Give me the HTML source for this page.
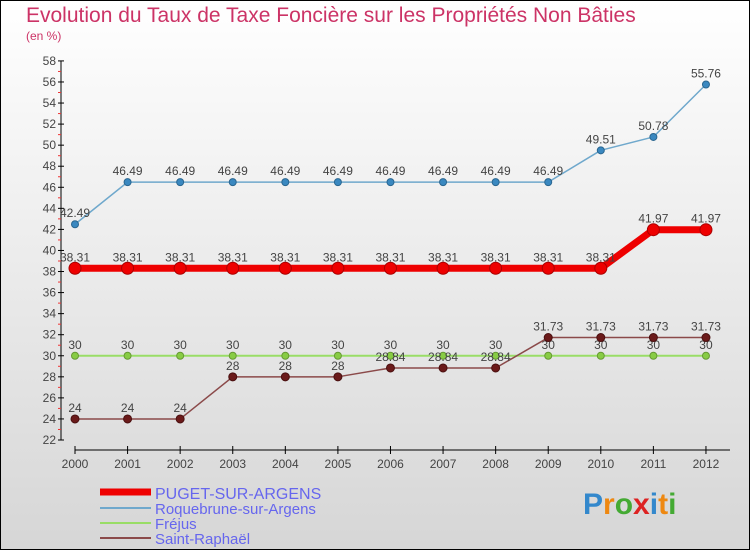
<!DOCTYPE html>
<html><head><meta charset="utf-8"><style>
html,body{margin:0;padding:0}
body{width:750px;height:550px;overflow:hidden;font-family:"Liberation Sans",sans-serif}
</style></head><body>
<svg id="c" width="750" height="550" xmlns="http://www.w3.org/2000/svg">
<defs><linearGradient id="bg" x1="0" y1="0" x2="0" y2="1"><stop offset="0" stop-color="#ffffff"/><stop offset="1" stop-color="#d6d6d6"/></linearGradient></defs>
<rect x="0.5" y="0.5" width="749" height="549" fill="url(#bg)" stroke="#000"/>
<text x="26" y="22" font-size="21" fill="#cc3366">Evolution du Taux de Taxe Foncière sur les Propriétés Non Bâties</text>
<text x="26" y="40" font-size="12" fill="#cc3366">(en %)</text>
<g id="axes"></g><g id="series"></g>
<g>
<line x1="100" y1="492" x2="151" y2="492" stroke="#ee0000" stroke-width="7"/>
<text x="155" y="499" font-size="16" fill="#6666ee">PUGET-SUR-ARGENS</text>
<line x1="100" y1="508" x2="151" y2="508" stroke="#6fa8cc" stroke-width="2"/>
<text x="155" y="514" font-size="15" fill="#6666ee">Roquebrune-sur-Argens</text>
<line x1="100" y1="523" x2="151" y2="523" stroke="#99dd66" stroke-width="2"/>
<text x="155" y="529" font-size="15" fill="#6666ee">Fréjus</text>
<line x1="100" y1="538" x2="151" y2="538" stroke="#8b4a4a" stroke-width="2"/>
<text x="155" y="544" font-size="15" fill="#6666ee">Saint-Raphaël</text>
</g>
<text x="583" y="514" font-size="30" font-weight="bold"><tspan fill="#3388cc">P</tspan><tspan fill="#ee8811">r</tspan><tspan fill="#44aa33">o</tspan><tspan fill="#dd2222">x</tspan><tspan fill="#3388cc">i</tspan><tspan fill="#ee8811">t</tspan><tspan fill="#44aa33">i</tspan></text>
</svg>
<script>
const years=[2000,2001,2002,2003,2004,2005,2006,2007,2008,2009,2010,2011,2012];
const puget=[38.31,38.31,38.31,38.31,38.31,38.31,38.31,38.31,38.31,38.31,38.31,41.97,41.97];
const roque=[42.49,46.49,46.49,46.49,46.49,46.49,46.49,46.49,46.49,46.49,49.51,50.78,55.76];
const frejus=[30,30,30,30,30,30,30,30,30,30,30,30,30];
const raph=[24,24,24,28,28,28,28.84,28.84,28.84,31.73,31.73,31.73,31.73];
const yTicks=[22,24,26,28,30,32,34,36,38,40,42,44,46,48,50,52,54,56,58];
const NS="http://www.w3.org/2000/svg";
const X=i=>75+i*52.58;
const Y=v=>440-(v-22)*10.53;
function mk(t,a,p){const e=document.createElementNS(NS,t);for(const k in a)e.setAttribute(k,a[k]);p.appendChild(e);return e;}
const ax=document.getElementById('axes');
let l=mk('line',{x1:61,y1:Y(58),x2:61,y2:Y(22),stroke:'#000'},ax);


yTicks.forEach((v,k)=>{
 mk('line',{x1:58,y1:Y(v),x2:64,y2:Y(v),stroke:'#000'},ax);
 if(k<yTicks.length-1) mk('line',{x1:58,y1:Y(v+1),x2:61,y2:Y(v+1),stroke:'#ee3333'},ax);
 const t=mk('text',{x:56,y:Y(v)+4,'font-size':12,fill:'#444','text-anchor':'end'},ax);t.textContent=v;
 
 
});
l=mk('line',{x1:X(0),y1:450,x2:730,y2:450,stroke:'#000'},ax);


years.forEach((y,i)=>{
 mk('line',{x1:X(i),y1:446,x2:X(i),y2:454,stroke:'#000'},ax);
 const t=mk('text',{x:X(i),y:468,'font-size':12,fill:'#444','text-anchor':'middle'},ax);t.textContent=y;
 
 
});
const sg=document.getElementById('series');
function series(vals,name,color,w,r,dot,dotStroke){
 const g=mk('g',{},sg);
 
 
 const p=mk('polyline',{points:vals.map((v,i)=>X(i)+','+Y(v)).join(' '),fill:'none',stroke:color,'stroke-width':w,'stroke-linejoin':'round'},g);
 
 
 vals.forEach((v,i)=>{
  const c=mk('circle',{cx:X(i),cy:Y(v),r:r,fill:dot,stroke:dotStroke,'stroke-width':1},g);
  
  
  const t=mk('text',{x:X(i),y:Y(v)-7,'font-size':12,fill:'#444','text-anchor':'middle'},g);t.textContent=v;
  
  
 });
}
series(frejus,'frejus-series','#99dd66',2,3.5,'#88cc44','#669933');
series(raph,'saint-raphael-series','#8b4a4a',1.5,4,'#6b1a1a','#4a1010');
series(roque,'roquebrune-series','#6fa8cc',1.5,3.5,'#3a88c0','#2a6690');
series(puget,'puget-series','#ee0000',7,6,'#ee0000','#aa0000');
</script>
</body></html>
